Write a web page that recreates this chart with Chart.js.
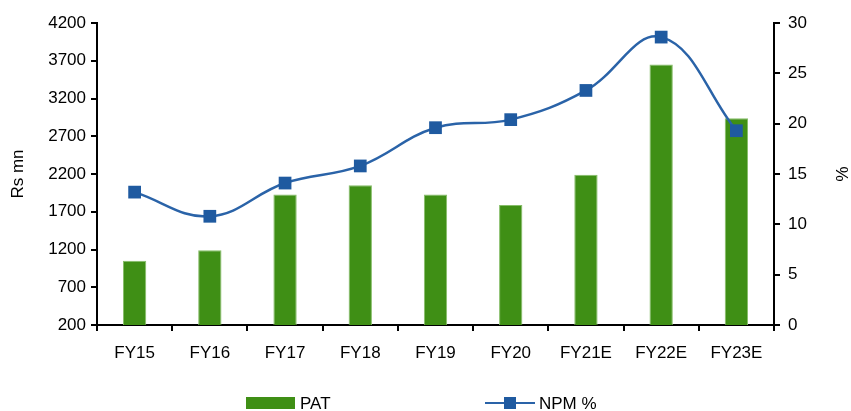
<!DOCTYPE html>
<html lang="en">
<head>
    <meta charset="UTF-8">
    <title>PAT and NPM</title>
    <style>
        html, body { margin: 0; padding: 0; background: #fff; }
        #wrap { width: 851px; height: 411px; }
    </style>
</head>
<body>
    <div id="wrap">
        <canvas id="myChart" width="851" height="411"></canvas>
    </div>

    <script src="https://cdn.jsdelivr.net/npm/chart.js"></script>

    <script>
        let labels = ['FY15', 'FY16', 'FY17', 'FY18', 'FY19', 'FY20', 'FY21E', 'FY22E', 'FY23E'];
        let pat = [1050, 1190, 1930, 2050, 1930, 1790, 2190, 3650, 2940];
        let npm = [13.2, 10.8, 14.1, 15.8, 19.6, 20.4, 23.3, 28.6, 19.3];
        let leftTicks = [200, 700, 1200, 1700, 2200, 2700, 3200, 3700, 4200];
        let rightTicks = [0, 5, 10, 15, 20, 25, 30];

        const font = { family: 'Liberation Sans, Arial, sans-serif', size: 17 };
        const green = '#3f8f15';
        const blue = '#1f5aa0';

        // legend drawn under the axis: a box for PAT, a line with a square for NPM
        const bottomLegend = {
            id: 'bottomLegend',
            afterDraw(chart) {
                const c = chart.ctx;
                const y = 403;
                c.save();
                c.font = '17px ' + font.family;
                c.textBaseline = 'middle';

                c.fillStyle = green;
                c.fillRect(246, y - 6, 49, 12);
                c.fillStyle = '#000';
                c.fillText(chart.data.datasets[0].label, 300, y + 1);

                c.strokeStyle = '#2a63a8';
                c.lineWidth = 2;
                c.beginPath();
                c.moveTo(485, y);
                c.lineTo(535, y);
                c.stroke();
                c.fillStyle = blue;
                c.fillRect(504, y - 6, 12, 12);
                c.fillStyle = '#000';
                c.fillText(chart.data.datasets[1].label, 539, y + 1);
                c.restore();
            }
        };

        function showChart() {
            const ctx = document.getElementById('myChart');

            let datasets = [
                {
                    type: 'bar',
                    label: 'PAT',
                    data: pat,
                    yAxisID: 'y',
                    backgroundColor: green,
                    borderColor: '#86bd68',
                    borderWidth: 1,
                    barPercentage: 0.31,
                    categoryPercentage: 1,
                    order: 2
                },
                {
                    type: 'line',
                    label: 'NPM %',
                    data: npm,
                    yAxisID: 'y1',
                    borderColor: '#2a63a8',
                    borderWidth: 2.5,
                    tension: 0.4,
                    pointStyle: 'rect',
                    pointRadius: 9,
                    pointBackgroundColor: blue,
                    pointBorderColor: blue,
                    pointBorderWidth: 0,
                    order: 1
                }
            ];

            let options = {
                responsive: false,
                animation: false,
                layout: { padding: { top: 23, left: 0, right: 0, bottom: 0 } },
                plugins: {
                    legend: { display: false },
                    tooltip: { enabled: false }
                },
                scales: {
                    x: {
                        offset: true,
                        grid: {
                            offset: true,
                            drawOnChartArea: false,
                            color: '#000',
                            lineWidth: 2,
                            tickLength: 6
                        },
                        border: { color: '#000', width: 2 },
                        ticks: { color: '#000', font: font, padding: 12 },
                        afterFit(s) { s.height = 86; }
                    },
                    y: {
                        position: 'left',
                        min: 200,
                        max: 4200,
                        afterBuildTicks(s) { s.ticks = leftTicks.map(v => ({ value: v })); },
                        grid: {
                            drawOnChartArea: false,
                            color: '#000',
                            lineWidth: 2,
                            tickLength: 6
                        },
                        border: { color: '#000', width: 2 },
                        ticks: { color: '#000', font: font, padding: 5, callback: v => String(v) },
                        title: { display: true, text: 'Rs mn', color: '#000', font: font, padding: { top: 8, bottom: 0 } },
                        afterFit(s) { s.width = 97; }
                    },
                    y1: {
                        position: 'right',
                        min: 0,
                        max: 30,
                        afterBuildTicks(s) { s.ticks = rightTicks.map(v => ({ value: v })); },
                        grid: {
                            drawOnChartArea: false,
                            color: '#000',
                            lineWidth: 2,
                            tickLength: 6
                        },
                        border: { color: '#000', width: 2 },
                        ticks: { color: '#000', font: font, padding: 8, callback: v => String(v) },
                        title: { display: true, text: '%', color: '#000', font: font, padding: { top: 0, bottom: 3 } },
                        afterFit(s) { s.width = 77; }
                    }
                }
            };

            new Chart(ctx, {
                data: { labels: labels, datasets: datasets },
                options: options,
                plugins: [bottomLegend]
            });
        }

        showChart();
    </script>
</body>
</html>
